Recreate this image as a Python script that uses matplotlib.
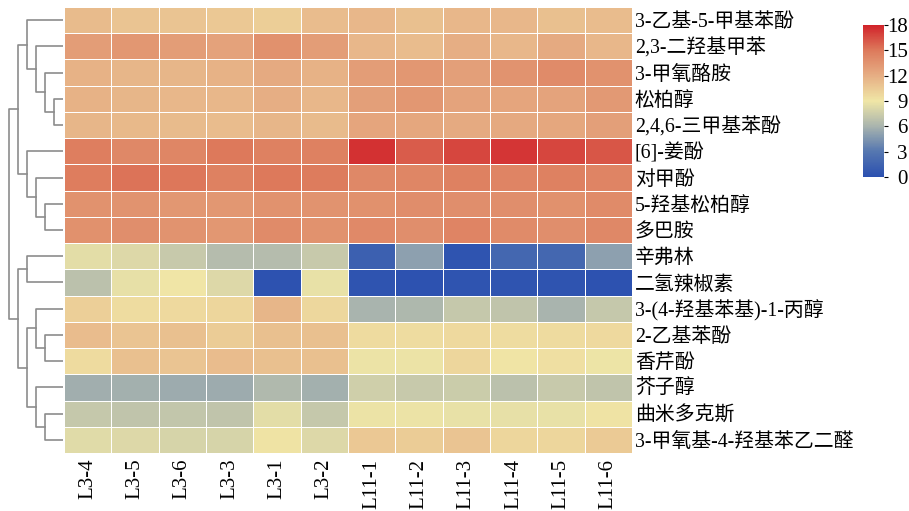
import matplotlib
matplotlib.use("Agg")
import matplotlib.pyplot as plt
import numpy as np
from matplotlib.colors import LinearSegmentedColormap

plt.rcParams["font.family"] = ["Liberation Serif", "Noto Sans CJK SC"]

samples = ["L3-4", "L3-5", "L3-6", "L3-3", "L3-1", "L3-2",
           "L11-1", "L11-2", "L11-3", "L11-4", "L11-5", "L11-6"]

compounds = ["3-乙基-5-甲基苯酚", "2,3-二羟基甲苯", "3-甲氧酪胺", "松柏醇",
             "2,4,6-三甲基苯酚", "[6]-姜酚", "对甲酚", "5-羟基松柏醇", "多巴胺",
             "辛弗林", "二氢辣椒素", "3-(4-羟基苯基)-1-丙醇", "2-乙基苯酚",
             "香芹酚", "芥子醇", "曲米多克斯", "3-甲氧基-4-羟基苯乙二醛"]

values = [
    [11.3, 10.8, 10.8, 10.6, 10.3, 11.2, 11.5, 11.0, 11.5, 11.5, 11.0, 11.2],
    [13.0, 13.3, 13.0, 12.7, 13.7, 13.0, 11.5, 11.2, 12.0, 11.5, 12.2, 11.5],
    [11.8, 11.6, 11.6, 11.8, 12.2, 11.8, 13.0, 13.3, 12.8, 13.5, 14.0, 13.6],
    [11.8, 11.6, 11.5, 11.5, 12.0, 11.5, 12.8, 13.3, 12.6, 12.5, 12.6, 13.2],
    [11.6, 11.4, 11.3, 11.2, 11.6, 11.3, 12.5, 12.4, 12.2, 12.3, 12.4, 12.8],
    [14.7, 14.2, 14.3, 15.0, 14.6, 14.6, 17.5, 16.0, 16.8, 17.3, 16.8, 16.2],
    [14.8, 15.2, 15.1, 14.6, 15.0, 14.9, 14.2, 14.3, 14.6, 14.4, 14.6, 14.4],
    [13.6, 13.5, 13.3, 13.3, 13.6, 13.5, 13.7, 13.9, 13.8, 13.8, 13.7, 14.0],
    [13.7, 13.8, 13.5, 13.3, 14.0, 13.6, 14.1, 13.8, 14.4, 14.0, 13.8, 14.2],
    [8.5, 8.2, 7.3, 6.5, 6.5, 7.3, 1.2, 5.0, 0.3, 1.8, 1.8, 5.0],
    [6.8, 8.6, 9.0, 8.2, 0.2, 8.7, 0.3, 0.2, 0.3, 0.3, 0.3, 0.2],
    [10.2, 9.5, 9.7, 9.9, 11.6, 9.8, 6.0, 6.2, 7.2, 7.0, 6.0, 7.2],
    [11.2, 10.8, 11.0, 10.4, 11.0, 11.0, 9.6, 9.5, 9.7, 9.5, 9.6, 9.7],
    [9.6, 11.0, 10.8, 11.2, 11.0, 11.0, 8.8, 8.8, 9.9, 9.1, 9.4, 8.9],
    [5.7, 5.8, 5.6, 5.6, 6.3, 5.8, 7.6, 7.3, 7.4, 6.8, 7.3, 7.0],
    [7.2, 7.0, 7.1, 7.0, 8.5, 7.2, 8.8, 8.8, 8.7, 8.6, 8.7, 9.2],
    [8.3, 8.2, 7.9, 7.9, 9.2, 8.2, 10.6, 10.4, 10.8, 9.9, 9.9, 10.5],
]

# row clustering: (left, right, height), new clusters numbered from 17
merges = [
    (3, 4, 1), (2, 17, 2), (1, 18, 3), (0, 19, 4),
    (7, 8, 2), (6, 21, 3), (5, 22, 4), (20, 23, 5),
    (9, 10, 4), (12, 13, 2), (11, 26, 3), (15, 16, 2),
    (14, 28, 3), (27, 29, 4), (25, 30, 5), (24, 31, 6),
]

cb_ticks = [0, 3, 6, 9, 12, 15, 18]

cmap = LinearSegmentedColormap.from_list("heat", [
    (0.0, "#2b50b0"), (1 / 6, "#5577b0"), (2 / 6, "#a9b4ae"),
    (3 / 6, "#f0e6a6"), (4 / 6, "#e6ae84"), (5 / 6, "#dd7a5c"),
    (1.0, "#d1232a")])

data = np.array(values)
n_rows, n_cols = data.shape

fig = plt.figure(figsize=(9.09, 5.11), dpi=100)
ax = fig.add_axes([64 / 909, 1 - 453 / 511, 568 / 909, 446 / 511])
mesh = ax.pcolormesh(np.arange(n_cols + 1), np.arange(n_rows + 1), data,
                     cmap=cmap, vmin=0, vmax=18, edgecolors="white", linewidth=0.7)
ax.set_xlim(0, n_cols)
ax.set_ylim(n_rows, 0)
ax.set_xticks(np.arange(n_cols) + 0.5)
ax.set_xticklabels(samples, rotation=90, fontsize=15)
ax.set_yticks(np.arange(n_rows) + 0.5)
ax.set_yticklabels(compounds, fontsize=14.3)
ax.yaxis.tick_right()
ax.tick_params(length=0)
ax.tick_params(axis="x", pad=4)
ax.tick_params(axis="y", pad=2)
for s in ax.spines.values():
    s.set_visible(False)

# dendrogram
dax = fig.add_axes([0, 1 - 453 / 511, 63 / 909, 446 / 511])
pos = {i: (0.0, i + 0.5) for i in range(n_rows)}
for k, (a, b, h) in enumerate(merges):
    ha, ya = pos[a]
    hb, yb = pos[b]
    dax.plot([ha, h, h, hb], [ya, ya, yb, yb], color="#8c8c8c", lw=1.2)
    pos[n_rows + k] = (h, (ya + yb) / 2)
dax.set_xlim(7.0, 0)
dax.set_ylim(n_rows, 0)
dax.axis("off")

# colorbar
cax = fig.add_axes([863 / 909, 1 - 177 / 511, 21 / 909, 152 / 511])
cb = fig.colorbar(mesh, cax=cax, ticks=cb_ticks)
cb.outline.set_visible(False)
cb.ax.tick_params(labelsize=15, length=3, width=0.8, pad=14)
for t in cb.ax.get_yticklabels():
    t.set_horizontalalignment("right")

fig.savefig("out.png", dpi=100)
